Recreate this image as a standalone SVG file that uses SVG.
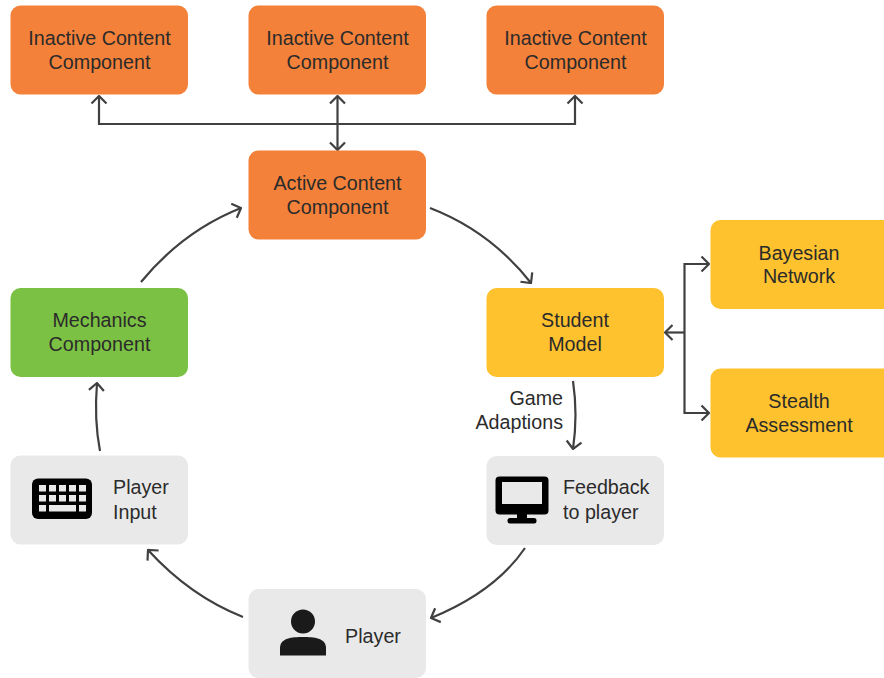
<svg xmlns="http://www.w3.org/2000/svg" width="884" height="678" viewBox="0 0 884 678">
<style>
text{font-family:"Liberation Sans",Arial,sans-serif;font-size:19.7px;fill:#2b2b2b;text-anchor:middle}
.o{fill:#f48139}.y{fill:#fec22e}.g{fill:#7bc143}.n{fill:#e9e9e9}
.c{fill:none;stroke:#404040;stroke-width:2.2}
.i{fill:#000}.p{fill:#1a1a1a}.w{fill:#e9e9e9}
</style>
<defs>
<marker id="a" viewBox="0 0 12 18" refX="11" refY="9" markerWidth="12" markerHeight="18" markerUnits="userSpaceOnUse" orient="auto-start-reverse"><path d="M3.500 1.500L11 9L3.500 16.500" fill="none" stroke="#404040" stroke-width="2.2"/></marker>
</defs>
<rect width="884" height="678" fill="#fff"/>
<g id="connectors" class="c">
<path class="c" d="M99 96V124H575V96" marker-start="url(#a)" marker-end="url(#a)"/>
<path class="c" d="M337.500 96V150" marker-start="url(#a)" marker-end="url(#a)"/>
<path class="c" d="M141 282Q183 231 241 208" marker-end="url(#a)"/>
<path class="c" d="M430 208Q490 231 531 283" marker-end="url(#a)"/>
<path class="c" d="M709 264H684.500V413H709" marker-start="url(#a)" marker-end="url(#a)"/>
<path class="c" d="M684.500 332.500H665" marker-end="url(#a)"/>
<path class="c" d="M573 381Q578 415 573 449" marker-end="url(#a)"/>
<path class="c" d="M525 548Q495 592 431 618" marker-end="url(#a)"/>
<path class="c" d="M243 617Q190 596 148 550" marker-end="url(#a)"/>
<path class="c" d="M100 451Q94 420 97 383" marker-end="url(#a)"/>
</g>
<g id="inactive1"><rect class="o" x="10.500" y="5.500" width="177.500" height="89" rx="10"/><text x="99.500" y="44.500">Inactive Content</text><text x="99.500" y="68.500">Component</text></g>
<g id="inactive2"><rect class="o" x="248.500" y="5.500" width="177.500" height="89" rx="10"/><text x="337.500" y="44.500">Inactive Content</text><text x="337.500" y="68.500">Component</text></g>
<g id="inactive3"><rect class="o" x="486.500" y="5.500" width="177.500" height="89" rx="10"/><text x="575.500" y="44.500">Inactive Content</text><text x="575.500" y="68.500">Component</text></g>
<g id="active"><rect class="o" x="248.500" y="150.500" width="177.500" height="89" rx="10"/><text x="337.500" y="190">Active Content</text><text x="337.500" y="214">Component</text></g>
<g id="mechanics"><rect class="g" x="10.500" y="288" width="177.500" height="89" rx="10"/><text x="99.500" y="327">Mechanics</text><text x="99.500" y="351">Component</text></g>
<g id="student"><rect class="y" x="486.500" y="288" width="177.500" height="89" rx="10"/><text x="575" y="327">Student</text><text x="575" y="351">Model</text></g>
<g id="bayesian"><rect class="y" x="710.500" y="220" width="190" height="89" rx="10"/><text x="799" y="259.500">Bayesian</text><text x="799" y="282.500">Network</text></g>
<g id="stealth"><rect class="y" x="710.500" y="368.500" width="190" height="89" rx="10"/><text x="799" y="407.500">Stealth</text><text x="799" y="431.500">Assessment</text></g>
<g id="adaptions"><text x="563" y="405" style="text-anchor:end">Game</text><text x="563" y="429" style="text-anchor:end">Adaptions</text></g>
<g id="feedback"><rect class="n" x="486.500" y="456" width="177.500" height="89" rx="10"/>
<rect class="i" x="495.500" y="476.500" width="53" height="38" rx="4"/><rect class="w" x="502" y="482" width="40" height="22"/><rect class="i" x="517" y="512" width="10" height="8"/><rect class="i" x="507.500" y="518" width="29" height="5.500" rx="2.500"/>
<text x="563" y="494" style="text-anchor:start">Feedback</text><text x="563" y="519" style="text-anchor:start">to player</text></g>
<g id="input"><rect class="n" x="10.500" y="455.500" width="177.500" height="89" rx="10"/>
<rect class="i" x="32" y="478.500" width="60" height="40.500" rx="6"/>
<path class="w" d="M39 485h7v6.500h-7zM49 485h7v6.500h-7zM59 485h7v6.500h-7zM69 485h7v6.500h-7zM79 485h7v6.500h-7zM39 495h7v6.500h-7zM49 495h7v6.500h-7zM59 495h7v6.500h-7zM69 495h7v6.500h-7zM79 495h7v6.500h-7zM39 505h7v6.500h-7zM49 505h27v6.500h-27zM79 505h7v6.500h-7z"/>
<text x="113" y="494" style="text-anchor:start">Player</text><text x="113" y="519" style="text-anchor:start">Input</text></g>
<g id="player"><rect class="n" x="248.500" y="589" width="177.500" height="89" rx="10"/>
<circle class="p" cx="303" cy="621.500" r="12"/><path class="p" d="M280 655.500V648C280 638 292 637 303 637S326 638 326 648V655.500Z"/>
<text x="373" y="642.500">Player</text></g>
</svg>
